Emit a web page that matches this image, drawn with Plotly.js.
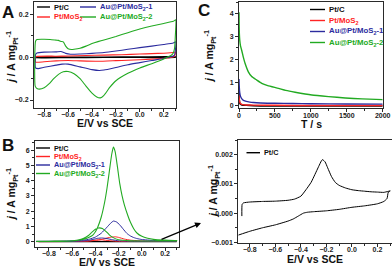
<!DOCTYPE html>
<html><head><meta charset="utf-8">
<script src="https://cdn.plot.ly/plotly-3.0.1.min.js"></script>
<style>html,body{margin:0;padding:0;background:#fff}#chart{width:392px;height:268px}</style>
</head><body><div id="chart"></div><script>
// ---------- series ----------
const seriesNames = ['Pt/C', 'Pt/MoS<sub>2</sub>', 'Au@Pt/MoS<sub>2</sub>-1', 'Au@Pt/MoS<sub>2</sub>-2'];
const seriesColors = ['#000000', '#ff2424', '#2c2c9e', '#22aa22'];

// ---------- Panel A : CV (E/V vs SCE, j / A mg-1) ----------
const A_ptc_x = [-0.872, -0.6, -0.3, 0.0, 0.3, 0.3, 0.0, -0.3, -0.6, -0.872, -0.872];
const A_ptc_y = [0.001, 0.001, 0.001, 0.0015, 0.002, 0.0, -0.001, -0.001, -0.0015, -0.0015, 0.001];

const A_red_x = [-0.872, -0.86, -0.7, -0.6, -0.45, -0.3, -0.15, 0.0, 0.1, 0.2, 0.28, 0.3,
                 0.295, 0.29, 0.25, 0.2, 0.1, 0.0, -0.1, -0.2, -0.35, -0.5, -0.6, -0.7, -0.8, -0.872, -0.872];
const A_red_y = [0.0, 0.004, 0.005, 0.006, 0.008, 0.01, 0.012, 0.015, 0.017, 0.019, 0.022, 0.025,
                 0.012, 0.004, -0.002, -0.005, -0.009, -0.012, -0.014, -0.016, -0.019, -0.017, -0.015, -0.017, -0.021, -0.023, 0.0];

const A_blue_x = [-0.872, -0.86, -0.8, -0.7, -0.66, -0.62, -0.58, -0.5, -0.4, -0.3, -0.2, -0.1, 0.0, 0.1, 0.2, 0.28, 0.3,
                  0.297, 0.29, 0.26, 0.22, 0.2, 0.1, 0.0, -0.1, -0.2, -0.3, -0.34, -0.4, -0.5, -0.6, -0.65, -0.7, -0.8, -0.85, -0.872, -0.872];
const A_blue_y = [0.012, 0.02, 0.024, 0.025, 0.027, 0.018, 0.014, 0.015, 0.018, 0.022, 0.029, 0.037, 0.045, 0.052, 0.06, 0.067, 0.072,
                  0.03, 0.01, 0.002, -0.002, -0.006, -0.015, -0.025, -0.035, -0.048, -0.06, -0.062, -0.058, -0.045, -0.032, -0.032, -0.037, -0.047, -0.053, -0.05, 0.012];

const A_green_x = [-0.872, -0.86, -0.8, -0.75, -0.7, -0.68, -0.66, -0.64, -0.62, -0.6, -0.57, -0.55, -0.5, -0.45, -0.4, -0.35, -0.3, -0.2, -0.1, 0.0, 0.1, 0.2, 0.28, 0.3,
                   0.297, 0.29, 0.28, 0.26, 0.22, 0.2, 0.1, 0.0, -0.1, -0.2, -0.25, -0.3, -0.33, -0.36, -0.4, -0.45, -0.5, -0.55, -0.6, -0.64, -0.68, -0.72, -0.76, -0.8, -0.84, -0.86, -0.875, -0.872];
const A_green_y = [0.075, 0.083, 0.084, 0.083, 0.08, 0.079, 0.074, 0.072, 0.052, 0.04, 0.036, 0.037, 0.042, 0.052, 0.064, 0.073, 0.081, 0.097, 0.115, 0.132, 0.146, 0.158, 0.168, 0.175,
                   0.1, 0.04, 0.02, 0.008, -0.002, -0.008, -0.03, -0.05, -0.075, -0.11, -0.14, -0.178, -0.19, -0.186, -0.168, -0.135, -0.1, -0.077, -0.067, -0.068, -0.08, -0.1, -0.125, -0.143, -0.149, -0.146, -0.135, 0.075];

// ---------- Panel C : chronoamperometry (T / s) ----------
const C_ptc_t = [0, 3, 10, 20, 40, 100, 200, 500, 1000, 2000];
const C_ptc_j = [0.55, 0.25, 0.1, 0.05, 0.02, 0.0, -0.02, -0.03, -0.03, -0.03];
const C_red_t = [0, 3, 10, 20, 40, 70, 100, 200, 500, 1000, 2000];
const C_red_j = [0.45, 0.3, 0.15, 0.08, 0.04, 0.02, 0.015, 0.01, 0.0, -0.01, -0.01];
const C_blue_t = [0, 3, 10, 20, 40, 70, 100, 150, 200, 300, 500, 750, 1000, 1500, 2000];
const C_blue_j = [1.15, 0.85, 0.55, 0.4, 0.28, 0.2, 0.17, 0.14, 0.12, 0.1, 0.09, 0.08, 0.07, 0.06, 0.05];
const C_green_t = [0, 2, 5, 10, 20, 37, 60, 84, 130, 177, 247, 316, 400, 549, 650, 781, 1014, 1247, 1479, 1712, 2000];
const C_green_j = [4.05, 3.5, 3.1, 2.85, 2.6, 2.4, 2.1, 1.83, 1.46, 1.25, 1.1, 0.96, 0.86, 0.74, 0.65, 0.57, 0.45, 0.38, 0.32, 0.28, 0.25];

// ---------- Panel D : Pt/C CV (also Pt/C trace of panel B) ----------
const D_ptc_x = [-0.862, -0.86, -0.85, -0.8, -0.7, -0.6, -0.5, -0.45, -0.4, -0.36, -0.32, -0.29, -0.26, -0.24, -0.23, -0.21, -0.19, -0.16, -0.13, -0.1, -0.05, 0.0, 0.05, 0.1, 0.15, 0.2, 0.25, 0.28, 0.3,
                 0.285, 0.275, 0.25, 0.2, 0.1, 0.0, -0.1, -0.2, -0.3, -0.35, -0.38, -0.42, -0.46, -0.5, -0.6, -0.7, -0.8, -0.89];
const D_ptc_y = [-0.0001, 0.0003, 0.00035, 0.00038, 0.0004, 0.00041, 0.00044, 0.00048, 0.00058, 0.0008, 0.00105, 0.00132, 0.0016, 0.00178, 0.00183, 0.00175, 0.00155, 0.00125, 0.00105, 0.00095, 0.00086, 0.0008, 0.00077, 0.00075, 0.00073, 0.00072, 0.00071, 0.00074, 0.00076,
                 0.00072, 0.0005, 0.0004, 0.00032, 0.00025, 0.0002, 0.00013, 0.00008, 0.00005, 0.00003, 0.0, -0.0001, -0.0002, -0.00027, -0.0004, -0.0005, -0.00062, -0.00075];

// ---------- Panel B : oxidation CV ----------
const B_red_x = [-0.91, -0.6, -0.5, -0.4, -0.35, -0.3, -0.26, -0.23, -0.2, -0.15, -0.1, -0.05, 0.0, 0.1, 0.3,
                 0.3, 0.0, -0.2, -0.3, -0.35, -0.4, -0.45, -0.5, -0.91];
const B_red_y = [0.01, 0.02, 0.03, 0.08, 0.14, 0.24, 0.3, 0.32, 0.28, 0.17, 0.1, 0.07, 0.05, 0.03, 0.02,
                 0.02, 0.01, 0.02, 0.08, 0.12, 0.1, 0.05, 0.02, 0.0];
const B_blue_x = [-0.91, -0.7, -0.6, -0.5, -0.45, -0.4, -0.35, -0.3, -0.27, -0.245, -0.22, -0.19, -0.16, -0.13, -0.1, -0.07, -0.04, 0.0, 0.1, 0.2, 0.3,
                  0.3, 0.1, -0.1, -0.2, -0.25, -0.3, -0.34, -0.38, -0.42, -0.46, -0.5, -0.6, -0.91];
const B_blue_y = [0.02, 0.03, 0.05, 0.1, 0.17, 0.3, 0.55, 0.95, 1.2, 1.35, 1.3, 1.1, 0.82, 0.55, 0.38, 0.27, 0.2, 0.14, 0.08, 0.06, 0.05,
                  0.04, 0.03, 0.03, 0.06, 0.12, 0.2, 0.24, 0.22, 0.15, 0.08, 0.05, 0.02, 0.01];
const B_green_x = [-0.91, -0.8, -0.7, -0.6, -0.55, -0.5, -0.45, -0.42, -0.4, -0.38, -0.35, -0.32, -0.3, -0.28, -0.26, -0.245, -0.23, -0.21, -0.19, -0.17, -0.15, -0.12, -0.1, -0.07, -0.04, 0.0, 0.05, 0.1, 0.2, 0.3,
                   0.3, 0.2, 0.1, 0.0, -0.1, -0.2, -0.25, -0.28, -0.31, -0.34, -0.37, -0.4, -0.43, -0.46, -0.5, -0.55, -0.6, -0.7, -0.8, -0.91];
const B_green_y = [0.02, 0.03, 0.04, 0.06, 0.1, 0.16, 0.3, 0.45, 0.65, 0.95, 1.6, 2.6, 3.5, 4.6, 5.7, 6.2, 5.9, 4.9, 3.8, 3.0, 2.4, 1.7, 1.3, 0.85, 0.55, 0.35, 0.22, 0.15, 0.1, 0.08,
                   0.06, 0.05, 0.04, 0.04, 0.05, 0.12, 0.28, 0.45, 0.68, 0.86, 0.9, 0.82, 0.62, 0.4, 0.22, 0.1, 0.05, 0.02, 0.01, 0.01];

// ---------- build ----------
const W = 392, H = 268;
const PX = p => p / W, PY = p => 1 - p / H;
const FONT = 'Liberation Sans, Arial, sans-serif';

function tr(x, y, ci, ax, w) {
  return {x: x, y: y, type: 'scatter', mode: 'lines', xaxis: 'x' + ax, yaxis: 'y' + ax,
          line: {color: seriesColors[ci], width: w, shape: 'spline', smoothing: 0.5}, showlegend: false, hoverinfo: 'skip'};
}
const traces = [
  tr(A_ptc_x, A_ptc_y, 0, '', 1.3), tr(A_red_x, A_red_y, 1, '', 1.1), tr(A_blue_x, A_blue_y, 2, '', 1.1), tr(A_green_x, A_green_y, 3, '', 1.1),
  tr(C_ptc_t, C_ptc_j, 0, '2', 1.6), tr(C_red_t, C_red_j, 1, '2', 1.4), tr(C_blue_t, C_blue_j, 2, '2', 1.4), tr(C_green_t, C_green_j, 3, '2', 1.4),
  tr(D_ptc_x, D_ptc_y, 0, '3', 1.1), tr(B_red_x, B_red_y, 1, '3', 1.0), tr(B_blue_x, B_blue_y, 2, '3', 1.0), tr(B_green_x, B_green_y, 3, '3', 1.1),
  tr(D_ptc_x, D_ptc_y, 0, '4', 1.0)
];

const tickFont = {family: FONT, size: 7, weight: 'bold', color: '#222'};
function axis(extra) {
  return Object.assign({showline: true, mirror: true, linecolor: '#2a2a2a', linewidth: 1, ticks: 'outside', ticklen: 3, tickwidth: 1,
    tickcolor: '#2a2a2a', tickfont: tickFont, showgrid: false, zeroline: false, fixedrange: true}, extra);
}
const xStand = -3;
const layout = {
  width: W, height: H, margin: {l: 0, r: 0, t: 0, b: 0}, paper_bgcolor: '#fff', plot_bgcolor: '#fff', showlegend: false,
  xaxis: axis({domain: [PX(34), PX(176.3)], range: [-0.885, 0.305], dtick: 0.2, tick0: 0, tickformat: '.1f', anchor: 'y', ticklabelstandoff: xStand, minor: {dtick: 0.1, ticks: 'outside', ticklen: 2}}),
  yaxis: axis({domain: [PY(107.7), PY(2.3)], range: [-0.236, 0.257], dtick: 0.2, tick0: 0, tickformat: '.1f', anchor: 'x', minor: {dtick: 0.1, ticks: 'outside', ticklen: 2}}),
  xaxis2: axis({domain: [PX(239), PX(382.7)], range: [0, 2000], dtick: 500, anchor: 'y2', ticklabelstandoff: xStand, minor: {dtick: 250, ticks: 'outside', ticklen: 2}}),
  yaxis2: axis({domain: [PY(108.3), PY(2)], range: [-0.13, 4.5], dtick: 1, anchor: 'x2', minor: {dtick: 0.5, ticks: 'outside', ticklen: 2}}),
  xaxis3: axis({domain: [PX(35), PX(179)], range: [-0.92, 0.32], dtick: 0.2, tick0: 0, tickformat: '.1f', anchor: 'y3', ticklabelstandoff: xStand, minor: {dtick: 0.1, ticks: 'outside', ticklen: 2}}),
  yaxis3: axis({domain: [PY(247), PY(141)], range: [-0.35, 6.6], dtick: 1, anchor: 'x3', minor: {dtick: 0.5, ticks: 'outside', ticklen: 2}}),
  xaxis4: axis({domain: [PX(238.3), PX(391.5)], range: [-0.89, 0.31], dtick: 0.2, tick0: 0, tickformat: '.1f', anchor: 'y4', ticklabelstandoff: xStand, minor: {dtick: 0.1, ticks: 'outside', ticklen: 2}}),
  yaxis4: axis({domain: [PY(243), PY(140)], range: [-0.00102, 0.0025], dtick: 0.001, tick0: 0, tickformat: '.3f', anchor: 'x4', minor: {dtick: 0.0005, ticks: 'outside', ticklen: 2}}),
  shapes: [], annotations: []
};

function txt(s, x, y, size, opts) {
  layout.annotations.push(Object.assign({text: s, x: PX(x), y: PY(y), xref: 'paper', yref: 'paper', showarrow: false,
    font: {family: FONT, size: size, weight: 'bold', color: '#111'}, xanchor: 'center', yanchor: 'middle'}, opts || {}));
}
const yTitle = '<i>j</i> / A mg<sub>Pt</sub><sup>-1</sup>';
// panel letters
txt('A', 7.5, 13, 17); txt('C', 204, 11, 17); txt('B', 7.5, 145, 17);
// axis titles
txt('E/V vs SCE', 105, 123, 10.5); txt('T / s', 311, 124, 10.5); txt('E/V vs SCE', 107, 261.5, 10.5); txt('E/V vs SCE', 315, 259, 10.5);
txt(yTitle, 12, 58, 10.5, {textangle: -90}); txt(yTitle, 210, 57, 10.5, {textangle: -90});
txt(yTitle, 12, 195, 10.5, {textangle: -90}); txt(yTitle, 214, 192, 10.5, {textangle: -90});

// legends
function legendItem(ci, x0, x1, y, size) {
  layout.shapes.push({type: 'line', xref: 'paper', yref: 'paper', x0: PX(x0), x1: PX(x1), y0: PY(y), y1: PY(y),
    line: {color: seriesColors[ci], width: 1.4}});
  txt(seriesNames[ci], x1 + 2, y, size, {xanchor: 'left', font: {family: FONT, size: size, weight: 'bold', color: ci === 0 ? '#111' : seriesColors[ci]}});
}
legendItem(0, 37, 50, 7, 7.5); legendItem(1, 37, 50, 17, 7.5); legendItem(2, 80, 96, 7, 7.5); legendItem(3, 80, 96, 17, 7.5);
[0, 1, 2, 3].forEach((ci, i) => legendItem(ci, 310, 325, 9.5 + i * 11, 7.8));
[0, 1, 2, 3].forEach((ci, i) => legendItem(ci, 36, 50, 148 + i * 8.5, 7.3));
legendItem(0, 246.5, 260, 152.7, 7.3);

// arrow from panel B to panel D
layout.annotations.push({text: '', x: PX(201), y: PY(223), xref: 'paper', yref: 'paper', showarrow: true,
  ax: -41, ay: 17, arrowhead: 2, arrowsize: 1, arrowwidth: 1.2, arrowcolor: '#000'});

Plotly.newPlot('chart', traces, layout, {staticPlot: true, displayModeBar: false});
</script></body></html>
